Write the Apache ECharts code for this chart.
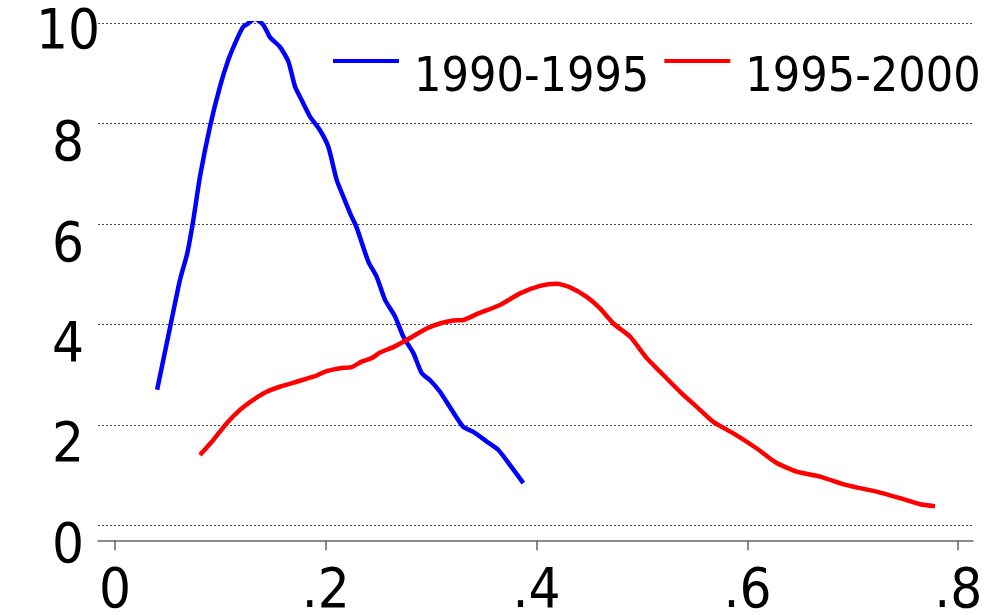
<!DOCTYPE html>
<html>
<head>
<meta charset="utf-8">
<script src="https://cdn.jsdelivr.net/npm/echarts@6/dist/echarts.min.js"></script>
<style>
  html, body { margin: 0; padding: 0; background: #fff; }
  #chart { width: 992px; height: 615px; }
</style>
</head>
<body>
<div id="chart"></div>
<script>
// series names
var seriesNames = ["1990-1995", "1995-2000"];
// density curves, [x, density]
var blueData = [
  [0.040, 2.70], [0.0537, 4.09], [0.0617, 4.89], [0.0686, 5.42], [0.0743, 6.08],
  [0.0806, 6.94], [0.0901, 7.94], [0.0996, 8.74], [0.1075, 9.27], [0.1154, 9.67],
  [0.1217, 9.93], [0.1265, 10.0], [0.1328, 10.09], [0.1407, 9.97], [0.1471, 9.72],
  [0.1565, 9.53], [0.1645, 9.24], [0.1708, 8.74], [0.1771, 8.47], [0.1850, 8.14],
  [0.1945, 7.87], [0.2024, 7.54], [0.2103, 6.88], [0.2166, 6.55], [0.2230, 6.22],
  [0.2293, 5.93], [0.2404, 5.25], [0.2483, 4.95], [0.2562, 4.49], [0.2657, 4.16],
  [0.2735, 3.76], [0.2831, 3.43], [0.2910, 3.03], [0.2989, 2.89], [0.3083, 2.66],
  [0.3194, 2.30], [0.3305, 1.96], [0.3400, 1.86], [0.3526, 1.67], [0.3637, 1.50],
  [0.3748, 1.20], [0.3874, 0.84]
];
var redData = [
  [0.0806, 1.40], [0.0933, 1.70], [0.1059, 2.03], [0.1186, 2.30], [0.1312, 2.50],
  [0.1439, 2.66], [0.1565, 2.76], [0.1723, 2.86], [0.1882, 2.96], [0.2008, 3.07],
  [0.2135, 3.13], [0.2245, 3.15], [0.2340, 3.26], [0.2435, 3.33], [0.2514, 3.44],
  [0.2641, 3.55], [0.2767, 3.69], [0.2957, 3.92], [0.3083, 4.02], [0.3210, 4.08],
  [0.3305, 4.09], [0.3447, 4.22], [0.3653, 4.39], [0.3843, 4.62], [0.4032, 4.77],
  [0.4190, 4.81], [0.4317, 4.74], [0.4475, 4.55], [0.4602, 4.32], [0.4728, 4.02],
  [0.4886, 3.76], [0.5045, 3.33], [0.5171, 3.06], [0.5361, 2.66], [0.5519, 2.36],
  [0.5677, 2.06], [0.5867, 1.83], [0.6089, 1.53], [0.6278, 1.24], [0.6467, 1.07],
  [0.6689, 0.97], [0.6942, 0.80], [0.7226, 0.67], [0.7448, 0.54], [0.7638, 0.42],
  [0.7780, 0.38]
];
// axis ticks
var xTicks = [0, 0.2, 0.4, 0.6, 0.8];
var xTickLabels = ["0", ".2", ".4", ".6", ".8"];

var FONT = "'Liberation Sans Narrow', 'DejaVu Sans Condensed', sans-serif";

var myChart = echarts.init(document.getElementById("chart"));
var option = {
  animation: false,
  backgroundColor: "#fff",
  grid: {
    left: 98, right: 19, top: 23.3, bottom: 89.7,
    containLabel: false,
    outerBoundsMode: "none"
  },
  legend: {
    left: 333,
    top: 55,
    width: 659,
    padding: 0,
    itemWidth: 66,
    itemHeight: 4,
    itemGap: 15,
    icon: "rect",
    formatter: "{t|{name}}",
    textStyle: {
      fontFamily: FONT,
      fontSize: 48,
      color: "#000",
      rich: {
        t: { fontFamily: FONT, fontSize: 48, color: "#000", padding: [36, 0, 0, 10] }
      }
    },
    data: seriesNames
  },
  xAxis: {
    type: "value",
    min: -0.0161,
    max: 0.814,
    offset: 15,
    splitLine: { show: false },
    axisLine: { show: true, onZero: false, lineStyle: { color: "#666", width: 1.5 } },
    axisTick: {
      show: true,
      length: 10,
      customValues: xTicks,
      lineStyle: { color: "#666", width: 1.5 }
    },
    axisLabel: {
      customValues: xTicks,
      margin: 24,
      fontFamily: FONT,
      fontSize: 56,
      color: "#000",
      formatter: function (v) {
        var i = xTicks.indexOf(v);
        return i >= 0 ? xTickLabels[i] : "";
      }
    }
  },
  yAxis: {
    type: "value",
    min: 0,
    max: 10,
    interval: 2,
    axisLine: { show: false },
    axisTick: { show: false },
    splitLine: {
      show: true,
      lineStyle: { color: "#444", width: 1, type: [2, 2] }
    },
    axisLabel: {
      margin: 30,
      align: "center",
      verticalAlign: "middle",
      fontFamily: FONT,
      fontSize: 56,
      color: "#000",
      formatter: function (v) {
        return v === 10 ? "{hi|" + v + "}" : "{lo|" + v + "}";
      },
      rich: {
        hi: { fontFamily: FONT, fontSize: 56, color: "#000", padding: [20, 0, 0, 0] },
        lo: { fontFamily: FONT, fontSize: 56, color: "#000", padding: [44, 0, 0, 0] }
      }
    }
  },
  series: [
    {
      name: seriesNames[0],
      type: "line",
      data: blueData,
      showSymbol: false,
      smooth: 0.2,
      color: "#0000ff",
      lineStyle: { color: "#0000ff", width: 4.5 }
    },
    {
      name: seriesNames[1],
      type: "line",
      data: redData,
      showSymbol: false,
      smooth: 0.2,
      color: "#ff0000",
      lineStyle: { color: "#ff0000", width: 4.5 }
    }
  ]
};
myChart.setOption(option);
</script>
</body>
</html>
